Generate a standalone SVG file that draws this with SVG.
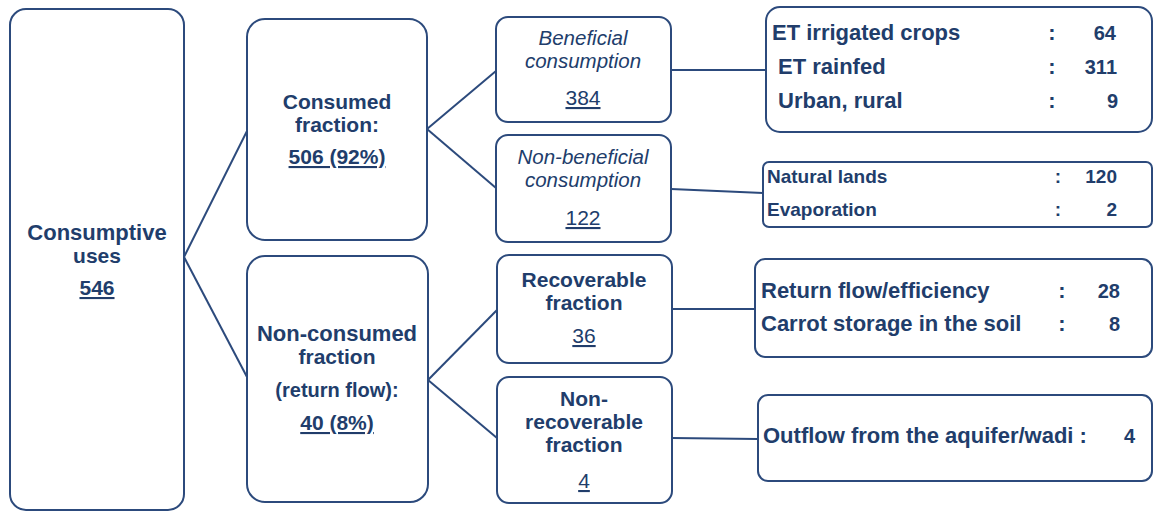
<svg xmlns="http://www.w3.org/2000/svg" width="1154" height="512" viewBox="0 0 1154 512">
<style>
.box{fill:#ffffff;stroke:#2c4a7c;stroke-width:2}
.con{stroke:#2c4a7c;stroke-width:2;fill:none}
text{font-family:"Liberation Sans",Arial,sans-serif;fill:#213d6b}
.b{font-weight:bold;font-size:21px}
.d{font-weight:bold;font-size:22px}
.c{text-anchor:middle}
.i{font-style:italic;font-size:20.5px}
.n{font-size:21px}
.u{text-decoration:underline}
.e{text-anchor:end}
.s{font-weight:bold;font-size:19px}
</style>
<rect width="1154" height="512" fill="#ffffff"/>
<g id="connectors">
<line class="con" x1="184" y1="257" x2="247" y2="131"/>
<line class="con" x1="184" y1="257" x2="247" y2="377"/>
<line class="con" x1="427" y1="129" x2="496" y2="71"/>
<line class="con" x1="427" y1="129" x2="496" y2="188"/>
<line class="con" x1="428" y1="380" x2="497" y2="310"/>
<line class="con" x1="428" y1="380" x2="497" y2="438"/>
<line class="con" x1="671" y1="70" x2="766" y2="70"/>
<line class="con" x1="671" y1="189" x2="763" y2="193"/>
<line class="con" x1="672" y1="309" x2="755" y2="309"/>
<line class="con" x1="672" y1="438" x2="758" y2="439"/>
</g>
<g id="consumptive-uses">
<rect class="box" x="10" y="9" width="174" height="501" rx="16"/>
<text class="b c" x="97" y="240" style="font-size:22px">Consumptive</text>
<text class="b c" x="97" y="263">uses</text>
<text class="b c u" x="97" y="295">546</text>
</g>
<g id="consumed-fraction">
<rect class="box" x="247" y="19" width="180" height="221" rx="18"/>
<text class="b c" x="337" y="109">Consumed</text>
<text class="b c" x="337" y="132">fraction:</text>
<text class="b c u" x="337" y="164">506 (92%)</text>
</g>
<g id="non-consumed-fraction">
<rect class="box" x="247" y="256" width="181" height="246" rx="18"/>
<text class="b c" x="337" y="341" style="font-size:22px">Non-consumed</text>
<text class="b c" x="337" y="364">fraction</text>
<text class="b c" x="337" y="397" style="font-size:20px">(return flow):</text>
<text class="b c u" x="337" y="430">40 (8%)</text>
</g>
<g id="beneficial">
<rect class="box" x="496" y="17" width="175" height="105" rx="12"/>
<text class="i c" x="583" y="45">Beneficial</text>
<text class="i c" x="583" y="68">consumption</text>
<text class="n c u" x="583" y="105">384</text>
</g>
<g id="non-beneficial">
<rect class="box" x="496" y="135" width="175" height="107" rx="12"/>
<text class="i c" x="583" y="164">Non-beneficial</text>
<text class="i c" x="583" y="187">consumption</text>
<text class="n c u" x="583" y="225">122</text>
</g>
<g id="recoverable">
<rect class="box" x="497" y="255" width="175" height="108" rx="12"/>
<text class="b c" x="584" y="287">Recoverable</text>
<text class="b c" x="584" y="310">fraction</text>
<text class="n c u" x="584" y="343">36</text>
</g>
<g id="non-recoverable">
<rect class="box" x="497" y="377" width="175" height="126" rx="12"/>
<text class="b c" x="584" y="406">Non-</text>
<text class="b c" x="584" y="429">recoverable</text>
<text class="b c" x="584" y="452">fraction</text>
<text class="n c u" x="584" y="488">4</text>
</g>
<g id="beneficial-detail">
<rect class="box" x="766" y="7" width="386" height="125" rx="14"/>
<text class="d" x="772" y="40">ET irrigated crops</text>
<text class="d" x="778" y="74">ET rainfed</text>
<text class="d" x="778" y="108">Urban, rural</text>
<text class="d c" x="1052" y="40">:</text>
<text class="d c" x="1052" y="74">:</text>
<text class="d c" x="1052" y="108">:</text>
<text class="b e" x="1116" y="40" style="font-size:20px">64</text>
<text class="b e" x="1117" y="74" style="font-size:20px">311</text>
<text class="b e" x="1118" y="108" style="font-size:20px">9</text>
</g>
<g id="non-beneficial-detail">
<rect class="box" x="763" y="162" width="389" height="65" rx="6"/>
<text class="s" x="767" y="183">Natural lands</text>
<text class="s" x="767" y="216">Evaporation</text>
<text class="s c" x="1058" y="183">:</text>
<text class="s c" x="1058" y="216">:</text>
<text class="s e" x="1117" y="183">120</text>
<text class="s e" x="1117" y="216">2</text>
</g>
<g id="recoverable-detail">
<rect class="box" x="755" y="259" width="397" height="98" rx="10"/>
<text class="d" x="761" y="298">Return flow/efficiency</text>
<text class="d" x="761" y="331">Carrot storage in the soil</text>
<text class="d c" x="1062" y="298">:</text>
<text class="d c" x="1062" y="331">:</text>
<text class="b e" x="1120" y="298" style="font-size:20px">28</text>
<text class="b e" x="1120" y="331" style="font-size:20px">8</text>
</g>
<g id="non-recoverable-detail">
<rect class="box" x="758" y="395" width="394" height="86" rx="10"/>
<text class="d" x="763" y="443">Outflow from the aquifer/wadi :</text>
<text class="b e" x="1135" y="443" style="font-size:20px">4</text>
</g>
</svg>
